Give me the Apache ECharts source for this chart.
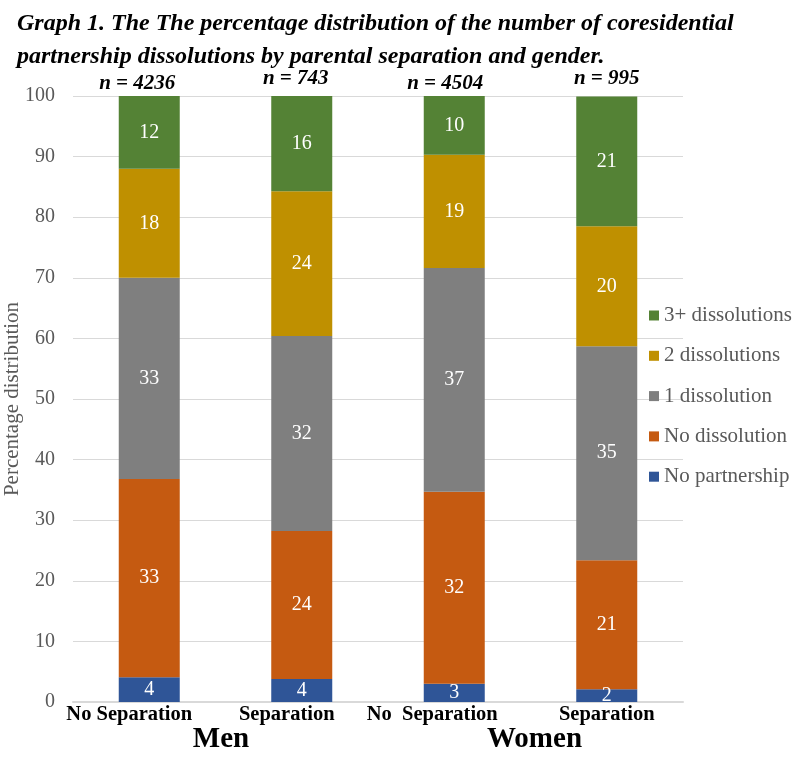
<!DOCTYPE html>
<html>
<head>
<meta charset="utf-8">
<script src="https://cdn.jsdelivr.net/npm/echarts@6/dist/echarts.min.js"></script>
<style>
  html, body { margin: 0; padding: 0; background: #fff; }
  #chart { width: 803px; height: 760px; }
</style>
</head>
<body>
<div id="chart"></div>
<script>
// categories and values
let groups = ['No Separation', 'Separation', 'No  Separation', 'Separation'];
let sampleSizes = ['n = 4236', 'n = 743', 'n = 4504', 'n = 995'];
let genders = ['Men', 'Women'];

let noPartnership = [4.1, 3.8, 3.0, 2.1];
let noDissolution = [32.7, 24.4, 31.7, 21.3];
let oneDissolution = [33.2, 32.2, 36.9, 35.3];
let twoDissolutions = [18.0, 23.9, 18.7, 19.8];
let threeDissolutions = [12.0, 15.7, 9.7, 21.4];

let serif = 'Liberation Serif';

function makeSeries(name, data, color) {
    return {
        name: name,
        type: 'bar',
        stack: 'all',
        barWidth: 61,
        data: data,
        itemStyle: { color: color },
        label: {
            show: true,
            position: 'inside',
            color: '#fff',
            fontFamily: serif,
            fontSize: 20,
            formatter: function (p) { return Math.round(p.value); }
        }
    };
}

// small per-label nudges, the labels in the picture are not centred on the bars
function richStyle(size, italic, pad) {
    return {
        fontFamily: serif, fontWeight: 'bold', fontStyle: italic ? 'italic' : 'normal',
        fontSize: size, color: '#000', padding: pad
    };
}

let option = {
    animation: false,
    title: {
        text: 'Graph 1. The The percentage distribution of the number of coresidential\npartnership dissolutions by parental separation and gender.',
        left: 12,
        top: 2,
        textStyle: {
            fontFamily: serif,
            fontStyle: 'italic',
            fontWeight: 'bold',
            fontSize: 24,
            lineHeight: 33,
            color: '#000'
        }
    },
    legend: {
        orient: 'vertical',
        left: 644,
        top: 300,
        itemWidth: 10,
        itemHeight: 10,
        itemGap: 19.3,
        icon: 'rect',
        data: ['3+ dissolutions', '2 dissolutions', '1 dissolution', 'No dissolution', 'No partnership'],
        textStyle: { fontFamily: serif, fontSize: 21, color: '#595959' }
    },
    grid: { left: 73, right: 120, top: 96, bottom: 58, outerBoundsMode: 'none' },
    xAxis: [{
        type: 'category',
        data: groups,
        axisLine: { lineStyle: { color: '#D9D9D9', width: 2 } },
        axisTick: { show: false },
        axisLabel: {
            margin: 2,
            interval: 0,
            formatter: function (v, i) { return '{l' + i + '|' + v + '}'; },
            rich: {
                l0: richStyle(20.5, false, [0, 40, 0, 0]),
                l1: richStyle(20.5, false, [0, 30, 0, 0]),
                l2: richStyle(20.5, false, [0, 44, 0, 0]),
                l3: richStyle(20.5, false, 0)
            }
        }
    }, {
        type: 'category',
        position: 'top',
        data: sampleSizes,
        axisLine: { show: false },
        axisTick: { show: false },
        axisLabel: {
            margin: 2,
            interval: 0,
            formatter: function (v, i) { return '{n' + i + '|' + v + '}'; },
            rich: {
                n0: richStyle(21, true, [0, 24, 0, 0]),
                n1: richStyle(21, true, [0, 12, 5, 0]),
                n2: richStyle(21, true, [0, 18, 0, 0]),
                n3: richStyle(21, true, [0, 0, 5, 0])
            }
        }
    }, {
        type: 'category',
        position: 'bottom',
        data: genders,
        axisLine: { show: false },
        axisTick: { show: false },
        axisLabel: {
            margin: 23,
            formatter: function (v, i) { return '{g' + i + '|' + v + '}'; },
            rich: {
                g0: richStyle(29, false, [0, 9, 0, 0]),
                g1: richStyle(29, false, [0, 0, 0, 8])
            }
        }
    }],
    yAxis: {
        type: 'value',
        min: 0,
        max: 100,
        interval: 10,
        name: 'Percentage distribution',
        nameLocation: 'middle',
        nameGap: 50,
        nameMoveOverlap: false,
        nameTextStyle: { fontFamily: serif, fontSize: 21, color: '#595959' },
        axisLine: { show: false },
        axisTick: { show: false },
        axisLabel: { margin: 18, fontFamily: serif, fontSize: 20, color: '#595959' },
        splitLine: { lineStyle: { color: '#D9D9D9', width: 1 } }
    },
    series: [
        makeSeries('No partnership', noPartnership, '#2F5597'),
        makeSeries('No dissolution', noDissolution, '#C55A11'),
        makeSeries('1 dissolution', oneDissolution, '#7F7F7F'),
        makeSeries('2 dissolutions', twoDissolutions, '#BF9000'),
        makeSeries('3+ dissolutions', threeDissolutions, '#548235')
    ]
};

let myChart = echarts.init(document.getElementById('chart'));
myChart.setOption(option);
</script>
</body>
</html>
